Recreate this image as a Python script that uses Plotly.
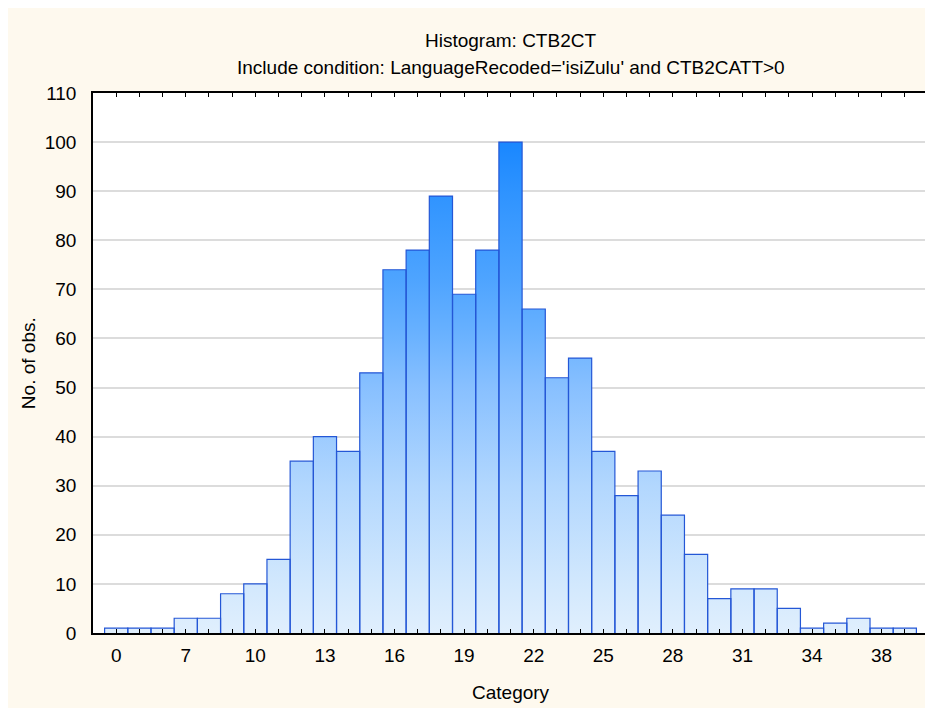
import plotly.graph_objects as go

# ---- data ----
counts = [1, 1, 1, 3, 3, 8, 10, 15, 35, 40, 37, 53, 74, 78, 89, 69, 78, 100,
          66, 52, 56, 37, 28, 33, 24, 16, 7, 9, 9, 5, 1, 2, 3, 1, 1]
tick_labels = ["0", "7", "10", "13", "16", "19", "22", "25", "28", "31", "34", "38"]
label_every = 3
y_ticks = list(range(0, 111, 10))

title1 = "Histogram: CTB2CT"
title2 = "Include condition: LanguageRecoded='isiZulu' and CTB2CATT>0"
x_title = "Category"
y_title = "No. of obs."

# ---- derived ----
n = len(counts)
idx = list(range(n))
ticktext = []
for i in idx:
    if i % label_every == 0 and i // label_every < len(tick_labels):
        ticktext.append(tick_labels[i // label_every])
    else:
        ticktext.append("")

step_x = [i - 0.5 for i in idx] + [n - 0.5]
step_y = counts + [counts[-1]]

# outline of every bar (left edge, top, right edge) built from the counts
out_x, out_y = [], []
for i, c in zip(idx, counts):
    out_x += [i - 0.5, i - 0.5, i + 0.5, i + 0.5, None]
    out_y += [0, c, c, 0, None]

FONT = "Liberation Sans, Arial, sans-serif"
OFF = 8                      # page body margin
W, H = 933 - OFF, 708 - OFF  # figure size
ML, MT = 93 - OFF, 93 - OFF
PW, PH = 837, 540
MR = W - ML - PW
MB = H - MT - PH


def px_x(px):  # screenshot pixel -> paper x
    return (px - OFF - ML) / PW


def px_y(py):  # screenshot pixel -> paper y
    return (MT + PH - (py - OFF)) / PH


fig = go.Figure()

# gradient fill of the histogram body
fig.add_trace(go.Scatter(
    x=step_x, y=step_y, mode="lines",
    line=dict(shape="hv", width=0, color="rgba(0,0,0,0)"),
    fill="tozeroy",
    fillgradient=dict(
        type="vertical", start=0, stop=100,
        colorscale=[[0.0, "#E0EFFD"], [0.1, "#D2E8FD"], [0.3, "#B2D7FE"],
                    [0.5, "#88C0FF"], [0.62, "#66B0FF"], [0.72, "#4EA4FF"],
                    [0.9, "#2E93FF"], [1.0, "#1987FF"]],
    ),
    hoverinfo="skip", showlegend=False,
))

# bar outlines
fig.add_trace(go.Scatter(
    x=out_x, y=out_y, mode="lines",
    line=dict(color="#2457D6", width=1.2),
    hoverinfo="skip", showlegend=False,
))

annotations = [
    dict(text=title1, xref="paper", yref="paper", x=0.5, y=px_y(40),
         xanchor="center", yanchor="middle", showarrow=False,
         font=dict(family=FONT, size=19, color="black")),
    dict(text=title2, xref="paper", yref="paper", x=0.5, y=px_y(67),
         xanchor="center", yanchor="middle", showarrow=False,
         font=dict(family=FONT, size=19, color="black")),
    dict(text=x_title, xref="paper", yref="paper", x=0.5, y=px_y(692),
         xanchor="center", yanchor="middle", showarrow=False,
         font=dict(family=FONT, size=19, color="black")),
    dict(text=y_title, xref="paper", yref="paper", x=px_x(28), y=0.5,
         xanchor="center", yanchor="middle", showarrow=False, textangle=-90,
         font=dict(family=FONT, size=19, color="black")),
]

fig.update_layout(
    width=W, height=H,
    margin=dict(l=ML, r=MR, t=MT, b=MB, pad=0),
    paper_bgcolor="#FEF9EE",
    plot_bgcolor="white",
    font=dict(family=FONT, size=19, color="black"),
    annotations=annotations,
    showlegend=False,
    xaxis=dict(
        range=[-1, n], tickmode="array", tickvals=idx, ticktext=ticktext,
        ticks="inside", ticklen=4, tickwidth=1, tickcolor="black",
        showline=True, linecolor="black", linewidth=1.5, mirror="ticks",
        showgrid=False, zeroline=False,
        ticklabelstandoff=4,
    ),
    yaxis=dict(
        range=[0, 110], tickmode="array", tickvals=y_ticks,
        ticks="", showline=True, linecolor="black", linewidth=1.5, mirror=True,
        showgrid=True, gridcolor="#DCDCDC", gridwidth=1.5, zeroline=False,
        ticklabelstandoff=11,
    ),
)

fig.write_html("out.html")
